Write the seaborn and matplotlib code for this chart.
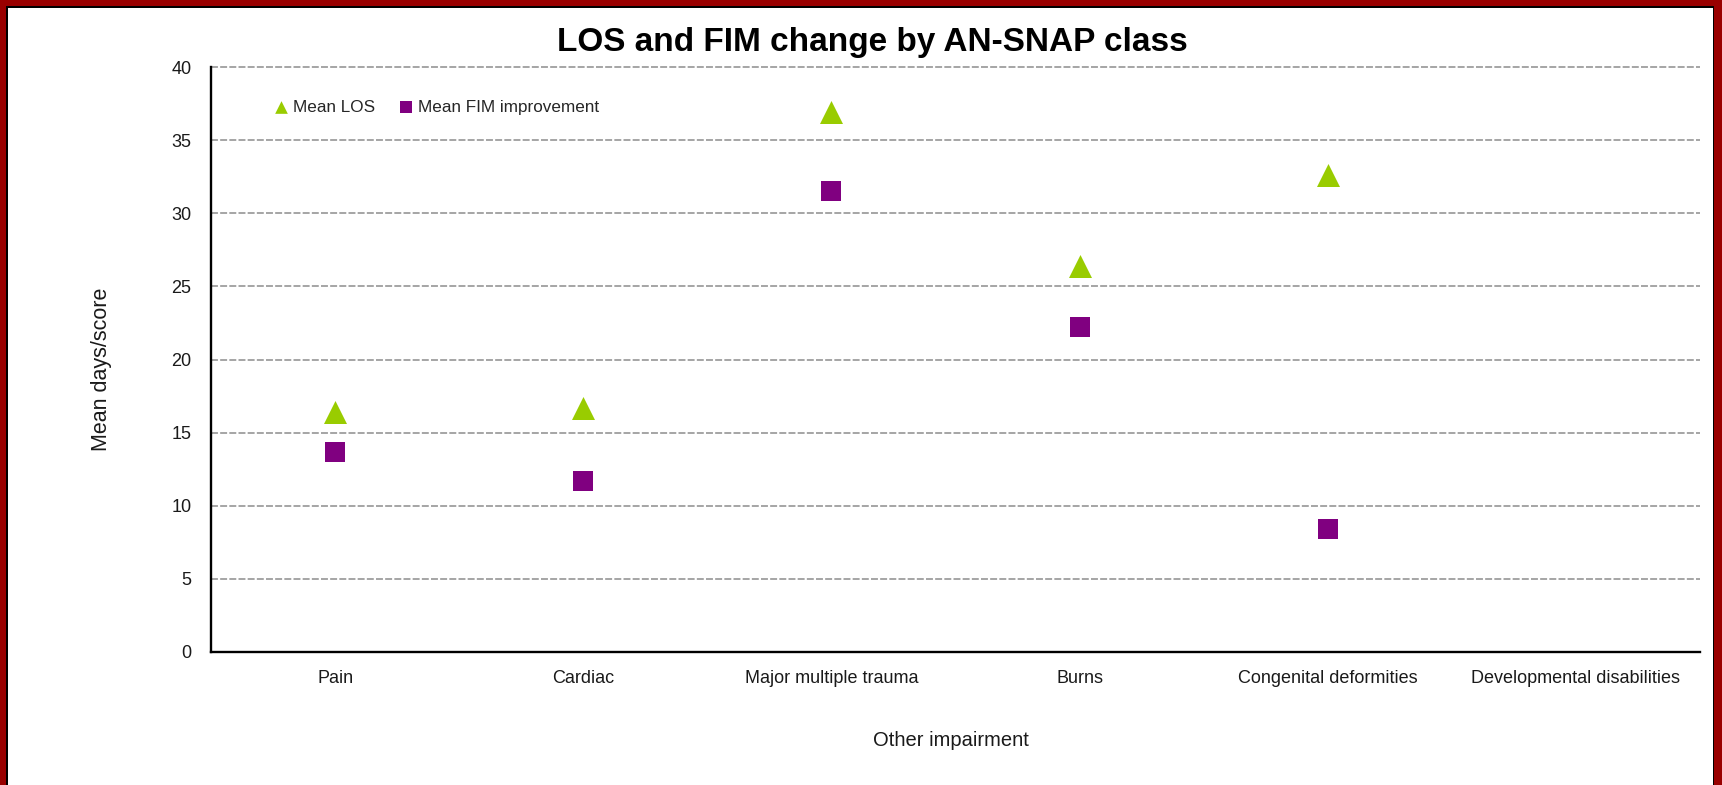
import numpy as np
import pandas as pd
import matplotlib
matplotlib.use("Agg")
import matplotlib.pyplot as plt
import seaborn as sns
from matplotlib import font_manager as fm
from matplotlib.patches import Rectangle

# data
categories = ["Pain", "Cardiac", "Major multiple trauma", "Burns",
              "Congenital deformities", "Developmental disabilities"]
mean_los = [16.4, 16.7, 36.9, 26.4, 32.6, np.nan]
mean_fim = [13.7, 11.7, 31.5, 22.2, 8.4, np.nan]
y_ticks = [0, 5, 10, 15, 20, 25, 30, 35, 40]

df = pd.DataFrame({"pos": range(len(categories)), "category": categories,
                   "los": mean_los, "fim": mean_fim})

sns.set_theme(style="white")
names = {f.name for f in fm.fontManager.ttflist}
if "Liberation Sans Narrow" in names:
    plt.rcParams["font.family"] = ["Liberation Sans Narrow", "DejaVu Sans"]
    tick_fs, xlab_fs, ylab_fs, title_fs, leg_fs = 15.5, 17.5, 18, 28, 15
else:
    plt.rcParams["font.family"] = ["Liberation Sans", "DejaVu Sans"]
    tick_fs, xlab_fs, ylab_fs, title_fs, leg_fs = 13, 14.5, 15.5, 24, 12.3
plt.rcParams["lines.scale_dashes"] = False

W, H = 1722, 785
fig = plt.figure(figsize=(W / 100, H / 100), dpi=100)
fig.patch.set_facecolor("white")
ax = fig.add_axes([211 / W, (H - 652) / H, (1700 - 211) / W, (652 - 67) / H])

sns.scatterplot(data=df, x="pos", y="los", marker="^", s=274, color="#99CC00",
                linewidth=0, label="Mean LOS", ax=ax, zorder=3)
sns.scatterplot(data=df, x="pos", y="fim", marker="s", s=228, color="#800080",
                linewidth=0, label="Mean FIM improvement", ax=ax, zorder=3)

ax.set_xlim(-0.5, len(categories) - 0.5)
ax.set_ylim(0, 40)
ax.set_yticks(y_ticks)
ax.set_xticks(range(len(categories)))
ax.set_xticklabels(categories)
ax.tick_params(axis="both", length=0, labelsize=tick_fs, colors="#1a1a1a")
ax.tick_params(axis="y", pad=14)
ax.tick_params(axis="x", pad=13)

ax.yaxis.grid(True, color="#969696", linestyle=(0, (5, 1.6)), linewidth=1.2)
for gl in ax.get_ygridlines():
    gl.set_clip_on(False)
ax.set_axisbelow(True)
for side in ["top", "right"]:
    ax.spines[side].set_visible(False)
for side in ["left", "bottom"]:
    ax.spines[side].set_color("black")
    ax.spines[side].set_linewidth(1.7)

ax.set_xlabel("Other impairment", fontsize=xlab_fs, va="center", color="#1a1a1a")
ax.set_ylabel("Mean days/score", fontsize=ylab_fs, va="center", color="#1a1a1a")
ax.xaxis.set_label_coords((951 - 211) / (1700 - 211), (652 - 741) / (652 - 67))
ax.yaxis.set_label_coords((102 - 211) / (1700 - 211), (652 - 369) / (652 - 67))

leg = ax.legend(loc="center left", bbox_to_anchor=((274 - 211) / (1700 - 211), (652 - 107) / (652 - 67)),
                ncol=2, frameon=False, fontsize=leg_fs, markerscale=0.55,
                handlelength=0.8, handletextpad=0.3, columnspacing=1.4,
                borderpad=0, borderaxespad=0)

fig.text(872 / W, 1 - 42 / H, "LOS and FIM change by AN-SNAP class",
         ha="center", va="center", fontsize=title_fs, fontweight="bold", color="black")

# dark red frame with thin black inner line (top, left, right)
red = "#990000"
fig.add_artist(Rectangle((0, 1 - 6 / H), 1, 6 / H, transform=fig.transFigure, color=red, lw=0))
fig.add_artist(Rectangle((0, 1 - 8 / H), 1, 2 / H, transform=fig.transFigure, color="black", lw=0))
fig.add_artist(Rectangle((0, 0), 6 / W, 1, transform=fig.transFigure, color=red, lw=0))
fig.add_artist(Rectangle((6 / W, 0), 1.5 / W, 1 - 6 / H, transform=fig.transFigure, color="black", lw=0))
fig.add_artist(Rectangle((1 - 8 / W, 0), 8 / W, 1, transform=fig.transFigure, color=red, lw=0))
fig.add_artist(Rectangle((1 - 9.5 / W, 0), 1.5 / W, 1 - 6 / H, transform=fig.transFigure, color="black", lw=0))

fig.savefig("out.png", dpi=100)
